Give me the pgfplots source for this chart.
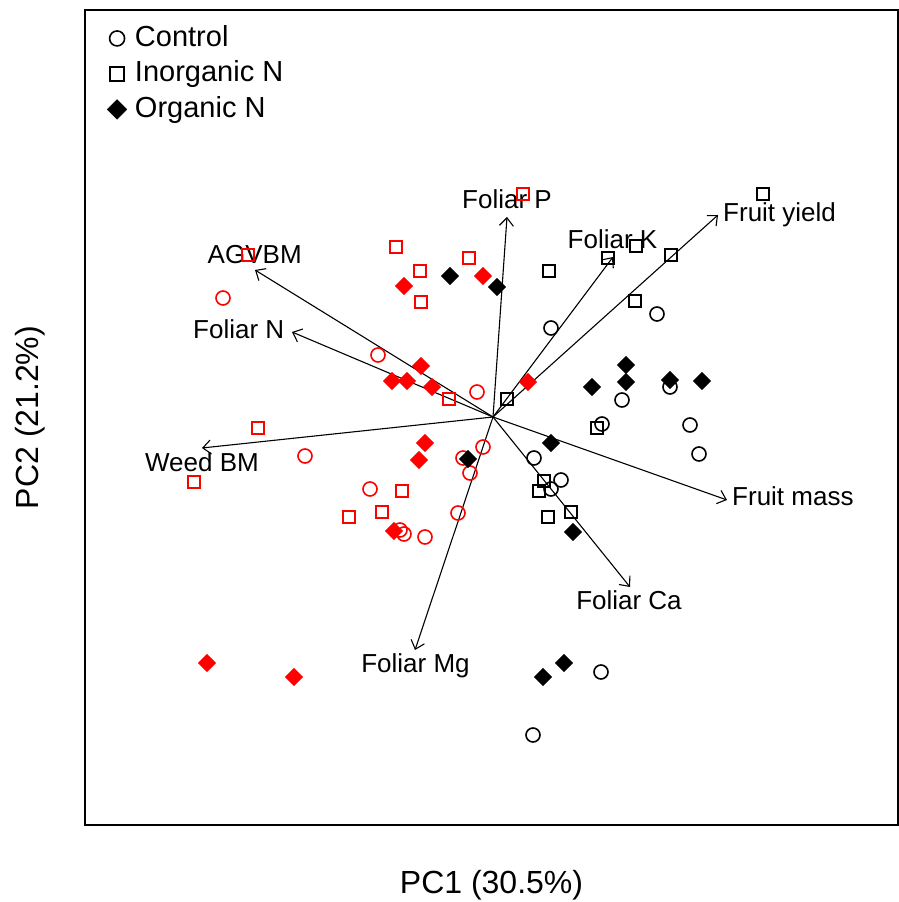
\documentclass[border=0pt]{standalone}
\usepackage{pgfplots}
\pgfplotsset{compat=1.18}
\usepackage{fontspec}
\setmainfont{Liberation Sans}
\usetikzlibrary{calc,arrows.meta}
\definecolor{rred}{RGB}{255,0,0}
\begin{document}
\begin{tikzpicture}
\begin{axis}[name=ax,
  scale only axis, width=813pt, height=815pt,
  xmin=85, xmax=898, ymin=-825, ymax=-10,
  xtick=\empty, ytick=\empty,
  axis line style={line width=1.4pt},
  xlabel={PC1 (30.5\%)}, ylabel={PC2 (21.2\%)},
  label style={font=\fontsize{32}{36}\selectfont},
  xlabel style={at={(axis description cs:0.5,-0.0736)}, anchor=center},
  ylabel style={at={(axis description cs:-0.0677,0.5)}, anchor=center},
  legend style={at={(axis cs:104,-21)}, anchor=north west, draw=none, fill=none,
    font=\fontsize{29}{34}\selectfont, row sep=9pt,
    nodes={inner sep=2pt},
    /tikz/every odd column/.append style={column sep=6pt}},
  legend cell align=left,
  legend image code/.code={\draw[#1] plot coordinates {(0.3cm,-2pt)};},
  circ/.style={only marks, mark=o, mark size=7pt, line width=1.6pt},
  sq/.style={only marks, mark=square, mark size=6pt, line width=1.6pt},
  dia/.style={only marks, mark=square*, mark size=6.2pt, line width=0.3pt,
    every mark/.append style={rotate=45}},
]
\addlegendimage{circ, black, mark size=7.5pt}
\addlegendentry{Control}
\addlegendimage{sq, black, mark size=6.8pt}
\addlegendentry{Inorganic N}
\addlegendimage{dia, black, mark size=7pt}
\addlegendentry{Organic N}

% red circles
\addplot[circ, rred, forget plot] coordinates {(223,-298) (378,-355) (477,-392) (305,-456) (370,-489) (400,-530) (404,-534) (425,-537) (483,-447) (463,-458) (470,-473) (458,-513)};
% red squares
\addplot[sq, rred, forget plot] coordinates {(248,-255) (396,-247) (469,-258) (420,-271) (421,-302) (523,-194) (449,-399) (258,-428) (194,-482) (402,-491) (382,-512) (349,-517)};
% black circles
\addplot[circ, black, forget plot] coordinates {(551,-328) (657,-314) (670,-387) (622,-400) (602,-424) (690,-425) (699,-454) (534,-458) (561,-480) (551,-489) (601,-672) (533,-735)};
% black squares
\addplot[sq, black, forget plot] coordinates {(549,-271) (608,-258) (636,-246) (671,-255) (635,-301) (763,-194) (507,-399) (597,-428) (544,-481) (539,-491) (571,-512) (548,-517)};
% red diamonds
\addplot[dia, rred, forget plot] coordinates {(404,-286) (483,-276) (421,-366) (392,-381) (407,-381) (432,-387) (528,-382) (425,-443) (419,-460) (394,-531) (207,-663) (294,-677)};
% black diamonds
\addplot[dia, black, forget plot] coordinates {(450,-276) (497,-287) (626,-365) (626,-382) (592,-387) (670,-380) (702,-381) (551,-443) (468,-459) (573,-532) (564,-663) (543,-677)};

% loading arrows
\pgfplotsset{arr/.style={black, line width=1.1pt, -{Straight Barb[length=8pt,width=14pt,line width=1.1pt]}, forget plot}}
\addplot[arr] coordinates {(493,-417) (507,-217)};
\addplot[arr] coordinates {(493,-417) (613,-257)};
\addplot[arr] coordinates {(493,-417) (718,-215)};
\addplot[arr] coordinates {(493,-417) (255,-270)};
\addplot[arr] coordinates {(493,-417) (292,-332)};
\addplot[arr] coordinates {(493,-417) (202,-448)};
\addplot[arr] coordinates {(493,-417) (727,-500)};
\addplot[arr] coordinates {(493,-417) (630,-587)};
\addplot[arr] coordinates {(493,-417) (415,-650)};

\begin{scope}[every node/.style={inner sep=0pt, font=\fontsize{26}{30}\selectfont}]
\node[anchor=base] at (axis cs:507,-209) {Foliar P};
\node[anchor=base] at (axis cs:612.5,-249) {Foliar K};
\node[anchor=base west] at (axis cs:723,-222) {Fruit yield};
\node[anchor=base] at (axis cs:254.7,-264) {AGVBM};
\node[anchor=base] at (axis cs:238.7,-339) {Foliar N};
\node[anchor=base] at (axis cs:202,-471.7) {Weed BM};
\node[anchor=base west] at (axis cs:732,-506) {Fruit mass};
\node[anchor=base] at (axis cs:629,-610) {Foliar Ca};
\node[anchor=base] at (axis cs:415.5,-673) {Foliar Mg};
\end{scope}
\end{axis}
\pgfresetboundingbox
\path[use as bounding box] ($(ax.south west)+(-85pt,-77pt)$) rectangle ($(ax.north east)+(1pt,10pt)$);
\end{tikzpicture}
\end{document}
